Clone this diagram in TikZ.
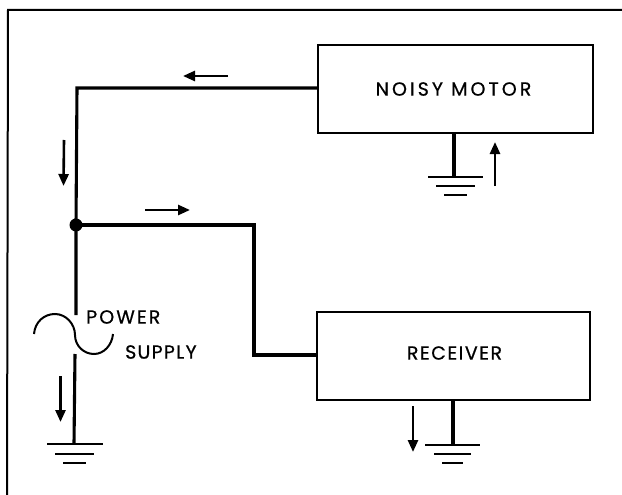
\documentclass[tikz,border=0pt]{standalone}
\usepackage{fontspec}
\setmainfont{Poppins}
\usetikzlibrary{arrows.meta,calc}
\newfontfamily\spacedR[LetterSpace=8,FakeBold=0.6]{Poppins}
\newfontfamily\spacedP[LetterSpace=11,FakeBold=0.6]{Poppins}
\newfontfamily\spacedS[LetterSpace=6.5,FakeBold=0.6]{Poppins}
\newfontfamily\spacedM[LetterSpace=16,FakeBold=0.6]{Poppins}
\tikzset{
  frameline/.style={line width=2pt,black},
  wire/.style={line width=3.1pt,black},
  blockbox/.style={draw,line width=2.4pt,rectangle,inner sep=0pt},
  earthbar/.style={line width=2.6pt,black},
  flow/.style={line width=2.6pt,black,-{Triangle[length=12pt,width=10pt]}},
  sine/.style={line width=2pt,black},
  lbl/.style={inner sep=0pt,font=\fontsize{19}{22}\selectfont},
}
\begin{document}
\begin{tikzpicture}[x=1pt,y=-1pt]
\useasboundingbox (0,0) rectangle (622,495);
% frame
\coordinate (fa) at (622,10);
\coordinate (fb) at (8,10);
\coordinate (fc) at (7,495);
\draw[frameline] (fa) -- (fb) -- (fc);
% blocks
\node[blockbox,minimum width=275pt,minimum height=88pt] (motor) at (455.5,89) {};
\node[blockbox,minimum width=273pt,minimum height=88pt] (recv) at (453.5,356) {};
\node[lbl] (motortxt) at (453.5,89) {\spacedM NOISY MOTOR};
\node[lbl] (recvtxt) at (454.5,353) {\spacedR RECEIVER};
\node[lbl,anchor=west] (pw) at (86,317) {\spacedP POWER};
\node[lbl,anchor=west] (sp) at (125,352) {\spacedS SUPPLY};
% junction and wires
\coordinate (j) at (76,225);
\coordinate (c1) at (77,88);
\coordinate (pst) at (76,315);
\coordinate (psb) at (75,354);
\coordinate (g1) at (74,444);
\draw[wire,line join=miter] (motor.west |- 0,88) -- (c1) -- (j) -- (pst);
\draw[wire] (psb) -- (g1);
\coordinate (c2) at (254,225);
\coordinate (c3) at (254,355);
\draw[wire] (j) -- (c2) -- (c3) -- (recv.west |- c3);
\fill[black] (j) circle (6.5pt);
% supply sine
\coordinate (s0) at (34,334);
\coordinate (s1) at (55,314);
\coordinate (s2) at (75,335);
\coordinate (s3) at (94,354);
\coordinate (s4) at (113,334);
\draw[sine] (s0) .. controls (35,322) and (44,314) .. (s1)
  .. controls (66,314) and (75,324) .. (s2)
  .. controls (75,346) and (84,354) .. (s3)
  .. controls (104,354) and (112,345) .. (s4);
% grounds
\draw[earthbar] (47,444) -- (103,444) (55,454) -- (94,454) (63,463) -- (86,463);
\coordinate (gm) at (454,177);
\draw[wire] (motor.south -| gm) -- (gm);
\draw[earthbar] (428,177) -- (483,177) (436,186) -- (475,186) (444,195) -- (467,195);
\coordinate (gr) at (453,445);
\draw[wire] (recv.south -| gr) -- (gr);
\draw[earthbar] (425,445) -- (480,445) (434,454) -- (471,454) (442,463) -- (463,463);
% flow arrows
\coordinate (a1s) at (228,76); \coordinate (a1e) at (183,76);
\coordinate (a2s) at (64,140); \coordinate (a2e) at (63.5,186);
\coordinate (a3s) at (145,210); \coordinate (a3e) at (190,210);
\coordinate (a4s) at (60.5,376); \coordinate (a4e) at (60.5,422);
\coordinate (a5s) at (495,186); \coordinate (a5e) at (495,142);
\coordinate (a6s) at (413,406); \coordinate (a6e) at (413,452);
\foreach \p in {a1,a2,a3,a4,a5,a6} \draw[flow] (\p s) -- (\p e);
\end{tikzpicture}
\end{document}
